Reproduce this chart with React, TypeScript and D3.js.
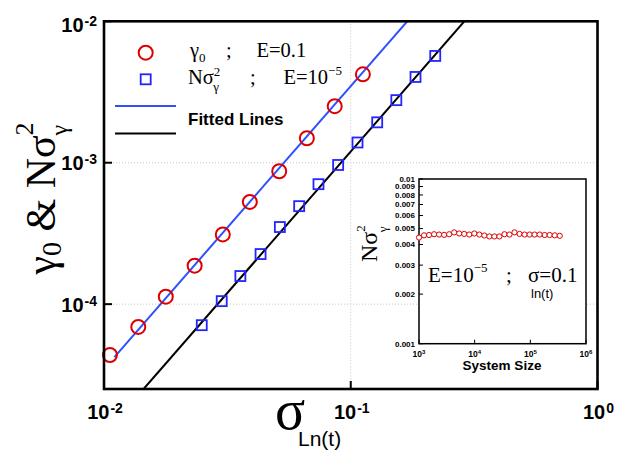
import React from 'react';
import * as d3 from 'd3';

// ---------- data ----------
const gammaX = [0.01057, 0.01377, 0.0178, 0.0233, 0.0303, 0.039, 0.0513, 0.0664, 0.0861, 0.112];
const gammaY = [4.37e-5, 6.9e-5, 1.13e-4, 1.87e-4, 3.11e-4, 5.28e-4, 8.7e-4, 1.49e-3, 2.51e-3, 4.22e-3];
const nsigX = [0.0249, 0.03, 0.0357, 0.0431, 0.0516, 0.0618, 0.074, 0.0889, 0.1065, 0.128, 0.153, 0.183, 0.22];
const nsigY = [7.1e-5, 1.05e-4, 1.58e-4, 2.26e-4, 3.51e-4, 4.93e-4, 7.05e-4, 9.64e-4, 1.39e-3, 1.93e-3, 2.77e-3, 4.04e-3, 5.69e-3];
// fitted power laws y = a * x^b
const fitBlueA = 0.348;
const fitBlueB = 2;
const fitBlueXStart = 0.01102;
const fitBlackA = 0.12;
const fitBlackB = 2;
const fitBlackXStart = 0.0145;

const xTickValues = [1e-2, 1e-1, 1];
const xTickExps = ['-2', '-1', '0'];
const yTickValues = [1e-2, 1e-3, 1e-4];
const yTickExps = ['-2', '-3', '-4'];

// inset
const insetSizes = [1000, 1231, 1515, 1866, 2297, 2828, 3482, 4287, 5278, 6498, 8000, 9849, 12126, 14929, 18380, 22629, 27859, 34299, 42227, 51989, 64007, 78804, 97020, 119446, 147056, 181049, 222900, 274424, 337860];
const insetValues = [0.00441, 0.00455, 0.00457, 0.00462, 0.0046, 0.00458, 0.00462, 0.00474, 0.00467, 0.00464, 0.0046, 0.00467, 0.0046, 0.00454, 0.00448, 0.00448, 0.00448, 0.00462, 0.0046, 0.00474, 0.00464, 0.0046, 0.0046, 0.0046, 0.0046, 0.00457, 0.00457, 0.00455, 0.00452];
const insetYTicks = [0.001, 0.002, 0.003, 0.004, 0.005, 0.006, 0.007, 0.008, 0.009, 0.01];
const insetYLabels = ['0.001', '0.002', '0.003', '0.004', '0.005', '0.006', '0.007', '0.008', '0.009', '0.01'];
const insetXTicks = [1e3, 1e4, 1e5, 1e6];
const insetXExps = ['3', '4', '5', '6'];

const SERIF = '"Liberation Serif", "Times New Roman", serif';
const SANS = '"Liberation Sans", Arial, sans-serif';
const RED = '#dd0000';
const BLUE = '#2424ff';
const BLUE_LINE = '#3050ff';

export default function App() {
  const L = 104, R = 597.5, T = 21.3, B = 389;
  const x = d3.scaleLog().domain([1e-2, 1]).range([L, R]);
  const y = d3.scaleLog().domain([Math.pow(10, -4.6), 1e-2]).range([B, T]);

  const iL = 419, iR = 586, iT = 179, iB = 343.7;
  const ix = d3.scaleLog().domain([1e3, 1e6]).range([iL, iR]);
  const iy = d3.scaleLog().domain([1e-3, 1e-2]).range([iB, iT]);

  const line = d3.line<number[]>().x(d => x(d[0])).y(d => y(d[1]));
  const blueFit = line([fitBlueXStart, 1].map(v => [v, fitBlueA * Math.pow(v, fitBlueB)]));
  const blackFit = line([fitBlackXStart, 1].map(v => [v, fitBlackA * Math.pow(v, fitBlackB)]));

  return (
    <svg width={623} height={452} style={{ position: 'absolute', left: 0, top: 0, background: '#fff' }}>
      <defs>
        <clipPath id="plotClip">
          <rect x={L} y={T} width={R - L} height={B - T} />
        </clipPath>
      </defs>
      <rect x={0} y={0} width={623} height={452} fill="#fff" />
      {/* grid */}
      <g stroke="#c8c8c8" strokeWidth={1} strokeDasharray="1,2">
        {yTickValues.slice(1).map(v => (
          <line key={'gy' + v} x1={L} x2={R} y1={y(v)} y2={y(v)} />
        ))}
        {xTickValues.slice(1, 2).map(v => (
          <line key={'gx' + v} x1={x(v)} x2={x(v)} y1={T} y2={B} />
        ))}
      </g>
      {/* fitted lines */}
      <g clipPath="url(#plotClip)" fill="none" strokeWidth={2}>
        <path d={blueFit || ''} stroke={BLUE_LINE} />
        <path d={blackFit || ''} stroke="#000" />
      </g>
      {/* markers */}
      <g fill="none" stroke={RED} strokeWidth={2}>
        {gammaX.map((v, i) => (
          <circle key={'c' + i} cx={x(v)} cy={y(gammaY[i])} r={7} />
        ))}
      </g>
      <g fill="none" stroke={BLUE} strokeWidth={1.8}>
        {nsigX.map((v, i) => (
          <rect key={'s' + i} x={x(v) - 5} y={y(nsigY[i]) - 5} width={10} height={10} />
        ))}
      </g>
      {/* ticks */}
      <g stroke="#000" strokeWidth={2}>
        {yTickValues.map(v => (
          <line key={'ty' + v} x1={L} x2={L + 8} y1={y(v)} y2={y(v)} />
        ))}
        {xTickValues.map(v => (
          <line key={'tx' + v} x1={x(v)} x2={x(v)} y1={B} y2={B - 8} />
        ))}
      </g>
      {/* frame */}
      <rect x={L} y={T} width={R - L} height={B - T} fill="none" stroke="#000" strokeWidth={2.6} />
      {/* tick labels */}
      <g fontFamily={SANS} fontWeight="bold" fill="#000">
        {yTickValues.map((v, i) => (
          <text key={'ly' + v} x={97} y={y(v) + (i === 0 ? 10.5 : 7.5)} textAnchor="end" fontSize={20}>
            10<tspan fontSize={14} dy={-6} dx={1}>{yTickExps[i]}</tspan>
          </text>
        ))}
        {xTickValues.map((v, i) => (
          <text key={'lx' + v} x={x(v) + 1} y={419} textAnchor="middle" fontSize={20}>
            10<tspan fontSize={14} dy={-6} dx={1}>{xTickExps[i]}</tspan>
          </text>
        ))}
      </g>
      {/* axis titles */}
      <text transform="translate(55,198.5) rotate(-90)" textAnchor="middle" fontFamily={SERIF} fontSize={42} fill="#000">
        γ<tspan fontSize={28} dy={6}>0</tspan>
        <tspan dy={-6}> &amp; Nσ</tspan>
        <tspan fontSize={26} dy={-22}>2</tspan>
        <tspan fontSize={24} dx={-13} dy={34}>γ</tspan>
      </text>
      <text x={275} y={429} fontFamily={SERIF} fontSize={56} fill="#000">σ</text>
      <text x={298} y={446} fontFamily={SANS} fontSize={21} fill="#000">Ln(t)</text>

      {/* legend */}
      <circle cx={145.7} cy={52.7} r={7} fill="none" stroke={RED} strokeWidth={2} />
      <rect x={140.7} y={74.3} width={10} height={10} fill="none" stroke={BLUE} strokeWidth={1.8} />
      <line x1={115} x2={176} y1={106} y2={106} stroke={BLUE_LINE} strokeWidth={2} />
      <line x1={115} x2={176} y1={133.5} y2={133.5} stroke="#000" strokeWidth={2} />
      <g fontFamily={SERIF} fontSize={20.5} fill="#000">
        <text x={190} y={57}>γ<tspan fontSize={13} dy={5}>0</tspan></text>
        <text x={226} y={57}>;</text>
        <text x={256.5} y={57}>E=0.1</text>
        <text x={188} y={84}>Nσ<tspan fontSize={13} dy={-8}>2</tspan><tspan fontSize={13} dx={-7} dy={15}>γ</tspan></text>
        <text x={250} y={84}>;</text>
        <text x={283.5} y={84}>E=10<tspan fontSize={13} dy={-9}>−5</tspan></text>
      </g>
      <text x={188} y={125} fontFamily={SANS} fontWeight="bold" fontSize={17} fill="#000">Fitted Lines</text>

      {/* inset */}
      <rect x={iL} y={iT} width={iR - iL} height={iB - iT} fill="#fff" stroke="#000" strokeWidth={1.5} />
      <g stroke="#000" strokeWidth={1}>
        {insetYTicks.map(v => (
          <line key={'ity' + v} x1={iL} x2={iL + 4} y1={iy(v)} y2={iy(v)} />
        ))}
        {insetXTicks.map(v => (
          <line key={'itx' + v} x1={ix(v)} x2={ix(v)} y1={iB} y2={iB - 4} />
        ))}
      </g>
      <g fill="#fff" stroke={RED} strokeWidth={1}>
        {insetSizes.map((s, i) => (
          <circle key={'ic' + i} cx={ix(s)} cy={iy(insetValues[i])} r={2.6} />
        ))}
      </g>
      <g fontFamily={SANS} fontWeight="bold" fill="#000">
        {insetYTicks.map((v, i) => (
          <text key={'ily' + v} x={415} y={iy(v) + 2.8} textAnchor="end" fontSize={8}>{insetYLabels[i]}</text>
        ))}
        {insetXTicks.map((v, i) => (
          <text key={'ilx' + v} x={ix(v)} y={357} textAnchor="middle" fontSize={8.5}>
            10<tspan fontSize={6} dy={-3.5}>{insetXExps[i]}</tspan>
          </text>
        ))}
        <text x={502} y={370} textAnchor="middle" fontSize={13.5}>System Size</text>
      </g>
      <text transform="translate(377,262) rotate(-90)" fontFamily={SERIF} fontSize={24} fill="#000">
        Nσ<tspan fontSize={13} dy={-12}>2</tspan><tspan fontSize={13} dx={-7} dy={22}>γ</tspan>
      </text>
      <g fontFamily={SERIF} fontSize={21} fill="#000">
        <text x={428} y={281.5}>E=10<tspan fontSize={13} dy={-10}>−5</tspan></text>
        <text x={506} y={281.5}>;</text>
        <text x={528} y={281.5}>σ=0.1</text>
      </g>
      <text x={531} y={297.5} fontFamily={SANS} fontSize={13} fill="#000">ln(t)</text>
    </svg>
  );
}
